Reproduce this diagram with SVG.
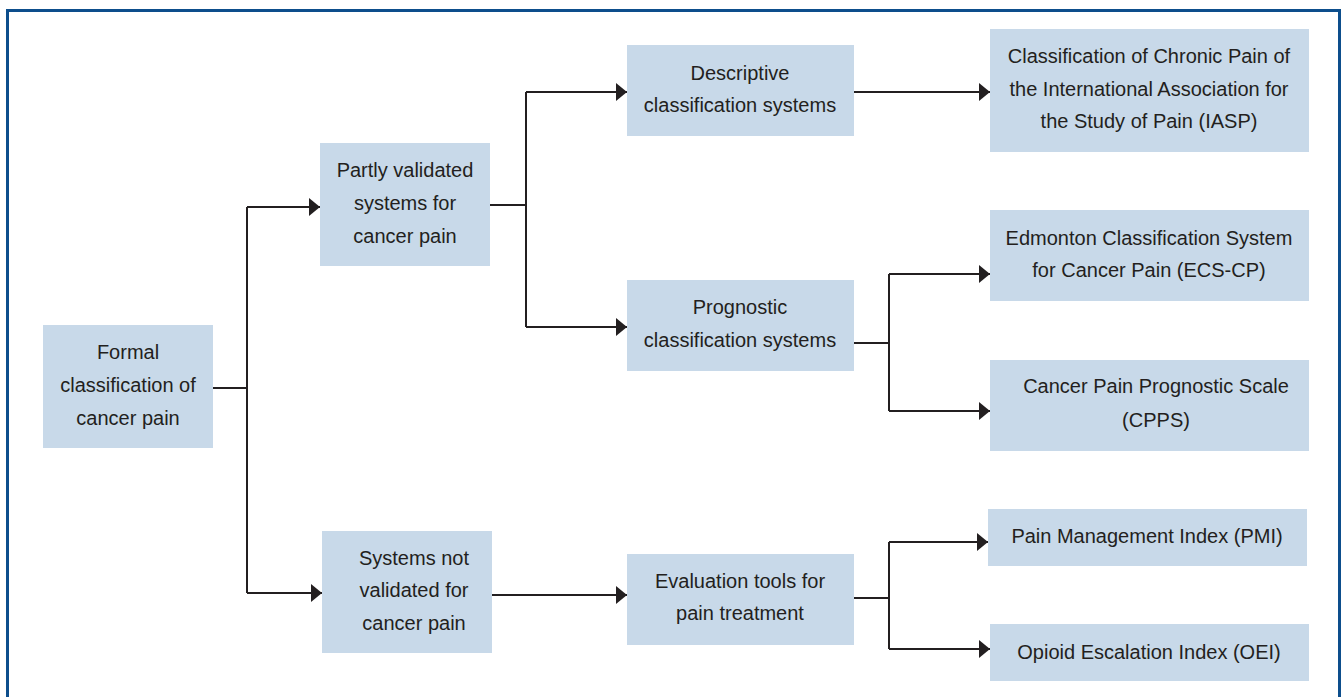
<svg xmlns="http://www.w3.org/2000/svg" width="1344" height="697" viewBox="0 0 1344 697">
  <style>
    .box { fill: #c8d9e9; }
    .lbl { font-family: "Liberation Sans", Arial, sans-serif; font-size: 20px; fill: #231f20; text-anchor: middle; }
    .ln { fill: none; stroke: #231f20; stroke-width: 2; }
    .arr { marker-end: url(#ah); }
  </style>
  <defs>
    <marker id="ah" markerUnits="userSpaceOnUse" markerWidth="11" markerHeight="18" refX="11" refY="9" orient="auto">
      <path d="M0,0 L11,9 L0,18 Z" fill="#231f20"/>
    </marker>
  </defs>
  <rect x="0" y="0" width="1344" height="697" fill="#ffffff"/>
  <rect x="7.5" y="10.5" width="1332" height="720" fill="none" stroke="#0d4e8c" stroke-width="3"/>

  <g id="connectors">
    <path class="ln" d="M213,388 H247"/>
    <path class="ln" d="M247,207 V593"/>
    <path class="ln arr" d="M247,207 H320"/>
    <path class="ln arr" d="M247,593 H322"/>
    <path class="ln" d="M490,205 H526"/>
    <path class="ln" d="M526,92 V327"/>
    <path class="ln arr" d="M526,92 H627"/>
    <path class="ln arr" d="M526,327 H627"/>
    <path class="ln arr" d="M854,92 H990"/>
    <path class="ln" d="M854,343 H889"/>
    <path class="ln" d="M889,274 V411"/>
    <path class="ln arr" d="M889,274 H990"/>
    <path class="ln arr" d="M889,411 H990"/>
    <path class="ln arr" d="M492,595 H627"/>
    <path class="ln" d="M854,598 H889"/>
    <path class="ln" d="M889,542 V649"/>
    <path class="ln arr" d="M889,542 H988"/>
    <path class="ln arr" d="M889,649 H990"/>
  </g>

  <g id="formal">
    <rect class="box" x="43" y="325" width="170" height="123"/>
    <text class="lbl" x="128" y="359">Formal</text>
    <text class="lbl" x="128" y="392">classification of</text>
    <text class="lbl" x="128" y="425">cancer pain</text>
  </g>
  <g id="partly">
    <rect class="box" x="320" y="143" width="170" height="123"/>
    <text class="lbl" x="405" y="177">Partly validated</text>
    <text class="lbl" x="405" y="210">systems for</text>
    <text class="lbl" x="405" y="243">cancer pain</text>
  </g>
  <g id="notvalidated">
    <rect class="box" x="322" y="531" width="170" height="122"/>
    <text class="lbl" x="414" y="565">Systems not</text>
    <text class="lbl" x="414" y="597">validated for</text>
    <text class="lbl" x="414" y="630">cancer pain</text>
  </g>
  <g id="descriptive">
    <rect class="box" x="627" y="45" width="227" height="91"/>
    <text class="lbl" x="740" y="80">Descriptive</text>
    <text class="lbl" x="740" y="112">classification systems</text>
  </g>
  <g id="prognostic">
    <rect class="box" x="627" y="280" width="227" height="91"/>
    <text class="lbl" x="740" y="314">Prognostic</text>
    <text class="lbl" x="740" y="347">classification systems</text>
  </g>
  <g id="evaluation">
    <rect class="box" x="627" y="554" width="227" height="91"/>
    <text class="lbl" x="740" y="588">Evaluation tools for</text>
    <text class="lbl" x="740" y="620">pain treatment</text>
  </g>
  <g id="iasp">
    <rect class="box" x="990" y="29" width="319" height="123"/>
    <text class="lbl" x="1149" y="63">Classification of Chronic Pain of</text>
    <text class="lbl" x="1149" y="96">the International Association for</text>
    <text class="lbl" x="1149" y="128">the Study of Pain (IASP)</text>
  </g>
  <g id="ecscp">
    <rect class="box" x="990" y="210" width="319" height="91"/>
    <text class="lbl" x="1149" y="245">Edmonton Classification System</text>
    <text class="lbl" x="1149" y="277">for Cancer Pain (ECS-CP)</text>
  </g>
  <g id="cpps">
    <rect class="box" x="990" y="360" width="319" height="91"/>
    <text class="lbl" x="1156" y="393">Cancer Pain Prognostic Scale</text>
    <text class="lbl" x="1156" y="427">(CPPS)</text>
  </g>
  <g id="pmi">
    <rect class="box" x="988" y="509" width="319" height="57"/>
    <text class="lbl" x="1147" y="543">Pain Management Index (PMI)</text>
  </g>
  <g id="oei">
    <rect class="box" x="990" y="624" width="319" height="57"/>
    <text class="lbl" x="1149" y="659">Opioid Escalation Index (OEI)</text>
  </g>
</svg>
